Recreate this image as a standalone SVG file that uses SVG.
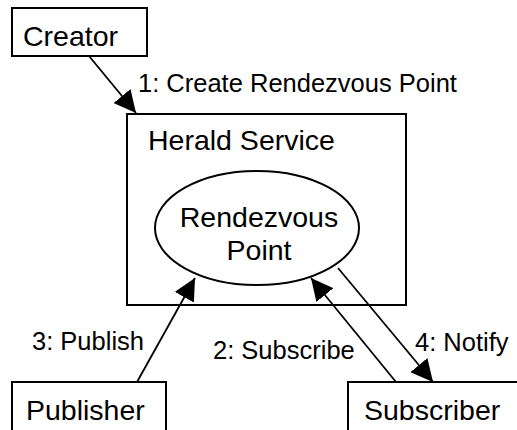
<svg xmlns="http://www.w3.org/2000/svg" width="517" height="430" viewBox="0 0 517 430">
<style>
.box{fill:#fff;stroke:#000;stroke-width:2}
.node{font-family:"Liberation Sans",Arial,sans-serif;font-size:28.5px;fill:#000}
.lbl{font-family:"Liberation Sans",Arial,sans-serif;font-size:25.5px;fill:#000}
.edge{stroke:#000;stroke-width:1.8;fill:none;marker-end:url(#arr)}
</style>
<defs>
<marker id="arr" viewBox="0 0 22 22" refX="22" refY="11" markerWidth="22" markerHeight="22" markerUnits="userSpaceOnUse" orient="auto">
<path d="M0,0 L22,11 L0,22 Z" fill="#000"/>
</marker>
</defs>
<rect width="517" height="430" fill="#fff"/>
<g id="creator">
<rect class="box" x="12" y="8" width="135" height="48"/>
<text class="node" x="23" y="46">Creator</text>
</g>
<g id="herald">
<rect class="box" x="127" y="114" width="279" height="191"/>
<text class="node" x="148" y="150">Herald Service</text>
</g>
<g id="rendezvous">
<ellipse class="box" cx="257" cy="228" rx="102" ry="57"/>
<text class="node" x="259" y="227" text-anchor="middle">Rendezvous</text>
<text class="node" x="259" y="260" text-anchor="middle">Point</text>
</g>
<g id="publisher">
<rect class="box" x="12" y="382" width="154" height="100"/>
<text class="node" x="26" y="420">Publisher</text>
</g>
<g id="subscriber">
<rect class="box" x="348" y="382" width="200" height="100"/>
<text class="node" x="364" y="420">Subscriber</text>
</g>
<g id="connectors">
<line class="edge" x1="89" y1="56" x2="136" y2="113"/>
<line class="edge" x1="137" y1="382" x2="195" y2="278"/>
<line class="edge" x1="396" y1="382" x2="311" y2="278"/>
<line class="edge" x1="338" y1="268" x2="433" y2="382"/>
<text class="lbl" x="138" y="92">1: Create Rendezvous Point</text>
<text class="lbl" x="32" y="350">3: Publish</text>
<text class="lbl" x="213" y="359">2: Subscribe</text>
<text class="lbl" x="415" y="351">4: Notify</text>
</g>
</svg>
